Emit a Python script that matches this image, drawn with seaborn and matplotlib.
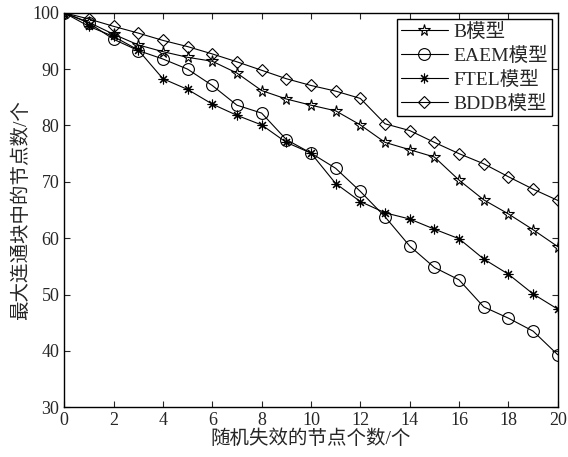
"""Largest connected component size under random node failure"""

import matplotlib
matplotlib.use("Agg")
import matplotlib.pyplot as plt
import seaborn as sns
import pandas as pd

# failed nodes (x axis)
failed_nodes = list(range(21))

# node counts in largest connected component
b_model = [100, 98.3, 96.2, 94.3, 93.1, 92.1, 91.4, 89.3, 86.2, 84.7, 83.6,
           82.6, 80.1, 77.0, 75.7, 74.4, 70.3, 66.8, 64.3, 61.5, 58.5]
eaem_model = [100, 98.2, 95.3, 93.3, 91.8, 90.0, 87.1, 83.6, 82.2, 77.5, 75.1,
              72.4, 68.3, 63.8, 58.6, 54.8, 52.6, 47.8, 45.8, 43.5, 39.3]
ftel_model = [100, 97.6, 95.8, 93.4, 88.3, 86.4, 83.8, 81.8, 80.1, 77.0, 75.1,
              69.7, 66.5, 64.5, 63.4, 61.6, 59.9, 56.3, 53.6, 50.1, 47.4]
bddb_model = [100, 98.9, 97.6, 96.4, 95.1, 94.0, 92.7, 91.3, 89.8, 88.3, 87.1,
              86.1, 84.8, 80.3, 79.1, 77.0, 75.0, 73.2, 70.9, 68.7, 66.7]

series_names = ["B模型", "EAEM模型", "FTEL模型", "BDDB模型"]
series_values = [b_model, eaem_model, ftel_model, bddb_model]

x_ticks = list(range(0, 21, 2))
y_ticks = list(range(30, 101, 10))

sns.set_style("ticks")
plt.rcParams["font.family"] = ["Liberation Serif", "Noto Sans CJK SC", "DejaVu Sans"]

# marker style per series (MATLAB-like open markers)
marker_styles = {
    "B模型": dict(marker="*", markersize=8.5, markerfacecolor="none"),
    "EAEM模型": dict(marker="o", markersize=8.5, markerfacecolor="none"),
    "FTEL模型": dict(marker=(8, 2, 0), markersize=7),
    "BDDB模型": dict(marker="D", markersize=6.5, markerfacecolor="none"),
}

frames = []
for name, values in zip(series_names, series_values):
    frames.append(pd.DataFrame({"x": failed_nodes, "y": values, "model": name}))
df = pd.concat(frames, ignore_index=True)

fig, ax = plt.subplots(figsize=(5.68, 4.57), dpi=100)

for name in series_names:
    sub = df[df["model"] == name]
    sns.lineplot(data=sub, x="x", y="y", ax=ax, color="black", linewidth=0.8,
                 markeredgecolor="black", markeredgewidth=0.8, label=name,
                 **marker_styles[name])

ax.set_xlim(0, 20)
ax.set_ylim(30, 100)
ax.set_xticks(x_ticks)
ax.set_yticks(y_ticks)
ax.tick_params(direction="in", top=True, right=True, labelsize=13, length=4, width=0.8)
for spine in ax.spines.values():
    spine.set_linewidth(1.0)
    spine.set_color("black")

ax.set_xlabel("随机失效的节点个数/个", fontsize=14, labelpad=0)
ax.set_ylabel("最大连通块中的节点数/个", fontsize=14, labelpad=2)

leg = ax.legend(loc="upper right", fontsize=14, frameon=True, fancybox=False,
                edgecolor="black", framealpha=1, borderpad=0.2, labelspacing=0.3,
                handlelength=2.4, handletextpad=0.3, borderaxespad=0.3)
leg.get_frame().set_linewidth(1.0)

plt.subplots_adjust(left=0.113, right=0.982, top=0.972, bottom=0.109)
plt.savefig("out.png", dpi=100)
plt.close()
